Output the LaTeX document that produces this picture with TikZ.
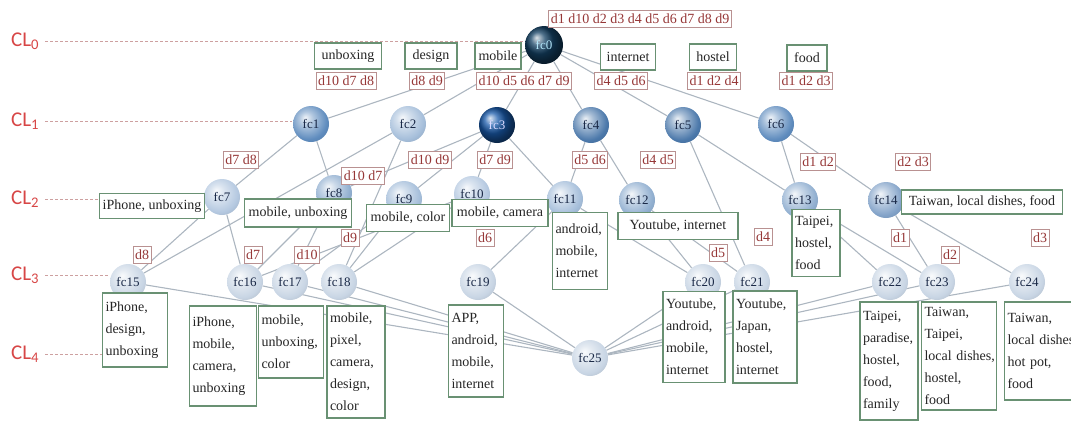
\documentclass[tikz,border=0pt]{standalone}
\usepackage{fontspec}
\setmainfont{Liberation Serif}
\newfontfamily\clfont{Carlito}
\usetikzlibrary{backgrounds}
\makeatletter
\pgfdeclareradialshading[tikz@ball]{softball}{\pgfqpoint{-8bp}{9bp}}{%
 color(0bp)=(tikz@ball!10!white);
 color(10bp)=(tikz@ball!50!white);
 color(26bp)=(tikz@ball);
 color(40bp)=(tikz@ball!82!black);
 color(56bp)=(tikz@ball!65!black)}
\makeatother
\definecolor{edgec}{RGB}{172,182,192}
\definecolor{kwborder}{RGB}{105,145,115}
\definecolor{docborder}{RGB}{185,145,145}
\definecolor{doctext}{RGB}{150,55,55}
\definecolor{clred}{RGB}{215,70,70}
\definecolor{cldashc}{RGB}{205,160,160}
\definecolor{cA}{RGB}{20,65,100}
\definecolor{cB}{RGB}{25,90,170}
\definecolor{cC}{RGB}{95,140,190}
\definecolor{cD}{RGB}{75,120,170}
\definecolor{cE}{RGB}{165,190,218}
\definecolor{cF}{RGB}{145,175,208}
\definecolor{cG}{RGB}{180,200,224}
\definecolor{cH}{RGB}{130,162,200}
\definecolor{cL}{RGB}{200,213,228}
\begin{document}
\begin{tikzpicture}[x=1pt,y=-1pt,
  fc/.style={circle, minimum size=36pt, inner sep=0pt, font=\fontsize{13}{13}\selectfont, text={rgb,255:red,25;green,40;blue,70}},
  sball/.style={ball color=#1, shading=softball},
  kw/.style={draw=kwborder, line width=1.2pt, fill=white, inner xsep=3pt, inner ysep=4pt, align=left, font=\fontsize{14}{22}\selectfont, text=black!85},
  doc/.style={draw=docborder, line width=0.9pt, fill=white, inner xsep=2pt, inner ysep=2pt, minimum height=17pt, font=\fontsize{14}{14}\selectfont, text=doctext},
  lnk/.style={draw=edgec, line width=1.1pt},
  cl/.style={font=\clfont\fontsize{21}{21}\selectfont, text=clred, anchor=west, inner sep=0pt},
  cldash/.style={draw=cldashc, line width=0.8pt, dash pattern=on 3pt off 2pt, shorten <=6pt}
]
\useasboundingbox (0,0) rectangle (1071,421);

% level labels
\node[cl] (cl0) at (11,41) {CL\textsubscript{0}};
\node[cl] (cl1) at (11,121) {CL\textsubscript{1}};
\node[cl] (cl2) at (11,199) {CL\textsubscript{2}};
\node[cl] (cl3) at (11,275) {CL\textsubscript{3}};
\node[cl] (cl4) at (11,354) {CL\textsubscript{4}};
\coordinate (cl0e) at (528,41);
\coordinate (cl1e) at (292,121);
\coordinate (cl2e) at (100,199);
\coordinate (cl3e) at (108,275);
\coordinate (cl4e) at (103,354);
\draw[cldash] (cl0.east) -- (cl0e);
\draw[cldash] (cl1.east) -- (cl1e);
\draw[cldash] (cl2.east) -- (cl2e);
\draw[cldash] (cl3.east) -- (cl3e);
\draw[cldash] (cl4.east) -- (cl4e);

% concept nodes
\node[fc, ball color=cA, text=cyan!30!white, minimum size=38pt] (fc0) at (544,45) {fc0};
\node[fc, sball=cC] (fc1) at (311,124) {fc1};
\node[fc, sball=cE] (fc2) at (408,124) {fc2};
\node[fc, ball color=cB, text=blue!15!white] (fc3) at (497,125) {fc3};
\node[fc, sball=cD] (fc4) at (591,125) {fc4};
\node[fc, sball=cD] (fc5) at (683,125) {fc5};
\node[fc, sball=cC] (fc6) at (776,124) {fc6};
\node[fc, sball=cG] (fc7) at (222,197) {fc7};
\node[fc, sball=cF] (fc8) at (334,193) {fc8};
\node[fc, sball=cE] (fc9) at (404,199) {fc9};
\node[fc, sball=cG] (fc10) at (472,194) {fc10};
\node[fc, sball=cE] (fc11) at (565,199) {fc11};
\node[fc, sball=cF] (fc12) at (637,200) {fc12};
\node[fc, sball=cF] (fc13) at (800,200) {fc13};
\node[fc, sball=cH] (fc14) at (886,200) {fc14};
\node[fc, sball=cL] (fc15) at (128,282) {fc15};
\node[fc, sball=cL] (fc16) at (245,282) {fc16};
\node[fc, sball=cL] (fc17) at (290,282) {fc17};
\node[fc, sball=cL] (fc18) at (339,282) {fc18};
\node[fc, sball=cL] (fc19) at (478,282) {fc19};
\node[fc, sball=cL] (fc20) at (703,282) {fc20};
\node[fc, sball=cL] (fc21) at (752,282) {fc21};
\node[fc, sball=cL] (fc22) at (890,282) {fc22};
\node[fc, sball=cL] (fc23) at (937,282) {fc23};
\node[fc, sball=cL] (fc24) at (1027,282) {fc24};
\node[fc, sball=cL] (fc25) at (590,358) {fc25};

% edges of the lattice
\begin{scope}[on background layer]
\foreach \a/\b in {fc0/fc1,fc0/fc2,fc0/fc3,fc0/fc4,fc0/fc5,fc0/fc6,
  fc1/fc7,fc1/fc8,fc2/fc15,fc2/fc18,
  fc3/fc8,fc3/fc9,fc3/fc10,fc3/fc11,
  fc4/fc11,fc4/fc12,fc5/fc13,fc5/fc21,fc6/fc13,fc6/fc14,
  fc7/fc15,fc7/fc16,fc8/fc16,fc8/fc17,fc9/fc17,fc9/fc18,fc10/fc16,fc10/fc18,
  fc11/fc19,fc11/fc20,fc12/fc20,fc12/fc21,fc13/fc22,fc13/fc23,fc14/fc23,fc14/fc24,
  fc15/fc25,fc16/fc25,fc17/fc25,fc18/fc25,fc19/fc25,fc20/fc25,fc21/fc25,fc22/fc25,fc23/fc25,fc24/fc25}
  {\draw[lnk] (\a) -- (\b);}
\end{scope}

% extent labels
\node[doc] (e0) at (640,19) {d1 d10 d2 d3 d4 d5 d6 d7 d8 d9};
\node[doc] (e1) at (346,81) {d10 d7 d8};
\node[doc] (e2) at (427,81) {d8 d9};
\node[doc] (e3) at (524,81) {d10 d5 d6 d7 d9};
\node[doc] (e4) at (621,81) {d4 d5 d6};
\node[doc] (e5) at (714,81) {d1 d2 d4};
\node[doc] (e6) at (806,81) {d1 d2 d3};
\node[doc] (e7) at (241,160) {d7 d8};
\node[doc] (e8) at (363,176) {d10 d7};
\node[doc] (e9) at (430,160) {d10 d9};
\node[doc] (e10) at (495,160) {d7 d9};
\node[doc] (e11) at (590,160) {d5 d6};
\node[doc] (e12) at (658,160) {d4 d5};
\node[doc] (e13) at (818,162) {d1 d2};
\node[doc] (e14) at (913,162) {d2 d3};
\node[doc] (e15) at (142,255) {d8};
\node[doc] (e16) at (253,255) {d7};
\node[doc] (e17) at (307,255) {d10};
\node[doc] (e18) at (350,238) {d9};
\node[doc] (e19) at (485,238) {d6};
\node[doc] (e20) at (718,253) {d5};
\node[doc] (e21) at (763,237) {d4};
\node[doc] (e22) at (900,238) {d1};
\node[doc] (e23) at (950,255) {d2};
\node[doc] (e24) at (1040,238) {d3};

% intent labels
\node[kw, minimum width=67pt, minimum height=26pt] (k1) at (348,56) {unboxing};
\node[kw, minimum width=52pt, minimum height=26pt] (k2) at (431,56) {design};
\node[kw, minimum width=46pt, minimum height=26pt] (k3) at (498,56) {mobile};
\node[kw, minimum width=55pt, minimum height=26pt] (k4) at (628,57) {internet};
\node[kw, minimum width=47pt, minimum height=26pt] (k5) at (713,57) {hostel};
\node[kw, minimum width=40pt, minimum height=26pt] (k6) at (807,58) {food};
\node[kw, minimum width=105pt, minimum height=25pt] (k7) at (152,206) {iPhone, unboxing};
\node[kw, minimum width=107pt, minimum height=28pt] (k8) at (298,213) {mobile, unboxing};
\node[kw, minimum width=83pt, minimum height=27pt] (k9) at (408,218) {mobile, color};
\node[kw, minimum width=96pt, minimum height=27pt] (k10) at (500,213) {mobile, camera};
\node[kw, text width=49pt, minimum height=77pt] (k11) at (580,251) {android,\\mobile,\\internet};
\node[kw, minimum width=120pt, minimum height=27pt] (k12) at (678,226) {Youtube, internet};
\node[kw, text width=42pt, minimum height=67pt] (k13) at (816,243) {Taipei,\\hostel,\\food};
\node[kw, minimum width=161pt, minimum height=24pt] (k14) at (982,202) {Taiwan, local dishes, food};
\node[kw, text width=59pt, minimum height=74pt] (k15) at (135,330) {iPhone,\\design,\\unboxing};
\node[kw, text width=61pt, minimum height=100pt] (k16) at (223,356) {iPhone,\\mobile,\\camera,\\unboxing};
\node[kw, text width=59pt, minimum height=72pt] (k17) at (291,342) {mobile,\\unboxing,\\color};
\node[kw, text width=52pt, minimum height=112pt] (k18) at (356,362) {mobile,\\pixel,\\camera,\\design,\\color};
\node[kw, text width=49pt, minimum height=92pt] (k19) at (476,351) {APP,\\android,\\mobile,\\internet};
\node[kw, text width=56pt, minimum height=91pt] (k20) at (694,337) {Youtube,\\android,\\mobile,\\internet};
\node[kw, text width=58pt, minimum height=92pt] (k21) at (765,337) {Youtube,\\Japan,\\hostel,\\internet};
\node[kw, text width=52pt, minimum height=118pt] (k22) at (889,361) {Taipei,\\paradise,\\hostel,\\food,\\family};
\node[kw, text width=69pt, minimum height=108pt] (k23) at (959,356) {Taiwan,\\Taipei,\\local~dishes,\\hostel,\\food};
\node[kw, text width=69pt, minimum height=98pt] (k24) at (1042,351) {Taiwan,\\local~dishes,\\hot pot,\\food};
\end{tikzpicture}
\end{document}
